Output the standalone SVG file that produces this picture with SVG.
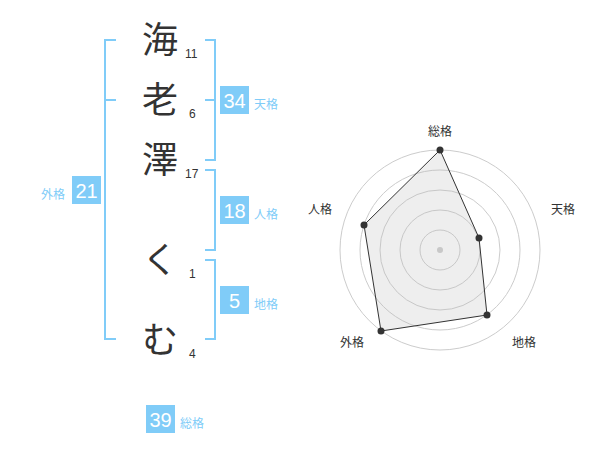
<svg xmlns="http://www.w3.org/2000/svg" width="600" height="470" viewBox="0 0 600 470">
<style>
.ch{font-family:"Noto Sans CJK JP","Noto Sans",sans-serif;font-size:36px;fill:#333;text-anchor:middle}
.st{font-family:"Liberation Sans","Noto Sans CJK JP",sans-serif;font-size:12px;fill:#333}
.br{fill:none;stroke:#80ccf8;stroke-width:2}
.box{fill:#80ccf8}
.bn{font-family:"Liberation Sans",sans-serif;font-size:20px;fill:#fff;text-anchor:middle}
.bl{font-family:"Noto Sans CJK JP",sans-serif;font-size:12px;fill:#80ccf8}
.ring{fill:none;stroke:#ccc;stroke-width:1}
.rl{font-family:"Noto Sans CJK JP",sans-serif;font-size:12px;fill:#333;text-anchor:middle}
</style>
<rect width="600" height="470" fill="#fff"/>
<g id="connectors">
<path class="br" d="M116,40 H105 V339 H116 M105,100 H116"/>
<path class="br" d="M205,40 H215 V160 H205 M205,100 H215"/>
<path class="br" d="M205,170 H215 V250 H205"/>
<path class="br" d="M205,260 H215 V339 H205"/>
</g>
<g id="char1"><text class="ch" x="160" y="53">海</text><text class="st" x="185" y="58">11</text></g>
<g id="char2"><text class="ch" x="160" y="113">老</text><text class="st" x="189" y="118">6</text></g>
<g id="char3"><text class="ch" x="160" y="173">澤</text><text class="st" x="185" y="178">17</text></g>
<g id="char4"><text class="ch" x="160" y="273">く</text><text class="st" x="189" y="278">1</text></g>
<g id="char5"><text class="ch" x="160" y="353">む</text><text class="st" x="189" y="358">4</text></g>
<g id="tenkaku"><rect class="box" x="220" y="86" width="29" height="28"/><text class="bn" x="234.5" y="107.5">34</text><text class="bl" x="254" y="109">天格</text></g>
<g id="jinkaku"><rect class="box" x="220" y="196" width="29" height="28"/><text class="bn" x="234.5" y="217.5">18</text><text class="bl" x="254" y="219">人格</text></g>
<g id="chikaku"><rect class="box" x="220" y="286" width="29" height="28"/><text class="bn" x="234.5" y="307.5">5</text><text class="bl" x="254" y="309">地格</text></g>
<g id="gaikaku"><rect class="box" x="72" y="176" width="29" height="28"/><text class="bn" x="86.5" y="197.5">21</text><text class="bl" x="41" y="199">外格</text></g>
<g id="soukaku"><rect class="box" x="146" y="405" width="29" height="28"/><text class="bn" x="160.5" y="426.5">39</text><text class="bl" x="180" y="428">総格</text></g>
<g id="radar">
<circle class="ring" cx="440" cy="250" r="20"/>
<circle class="ring" cx="440" cy="250" r="40"/>
<circle class="ring" cx="440" cy="250" r="60"/>
<circle class="ring" cx="440" cy="250" r="80"/>
<circle class="ring" cx="440" cy="250" r="100"/>
<circle cx="440" cy="250" r="3" fill="#ccc"/>
<polygon points="440,150 479,238 487,315 381,331 364,225" fill="#bbb" fill-opacity="0.25" stroke="#333" stroke-width="1"/>
<g fill="#333">
<circle cx="440" cy="150" r="3.5"/>
<circle cx="479" cy="238" r="3.5"/>
<circle cx="487" cy="315" r="3.5"/>
<circle cx="381" cy="331" r="3.5"/>
<circle cx="364" cy="225" r="3.5"/>
</g>
<text class="rl" x="440" y="136">総格</text>
<text class="rl" x="563" y="214">天格</text>
<text class="rl" x="524" y="347">地格</text>
<text class="rl" x="352" y="347">外格</text>
<text class="rl" x="320" y="214">人格</text>
</g>
</svg>
